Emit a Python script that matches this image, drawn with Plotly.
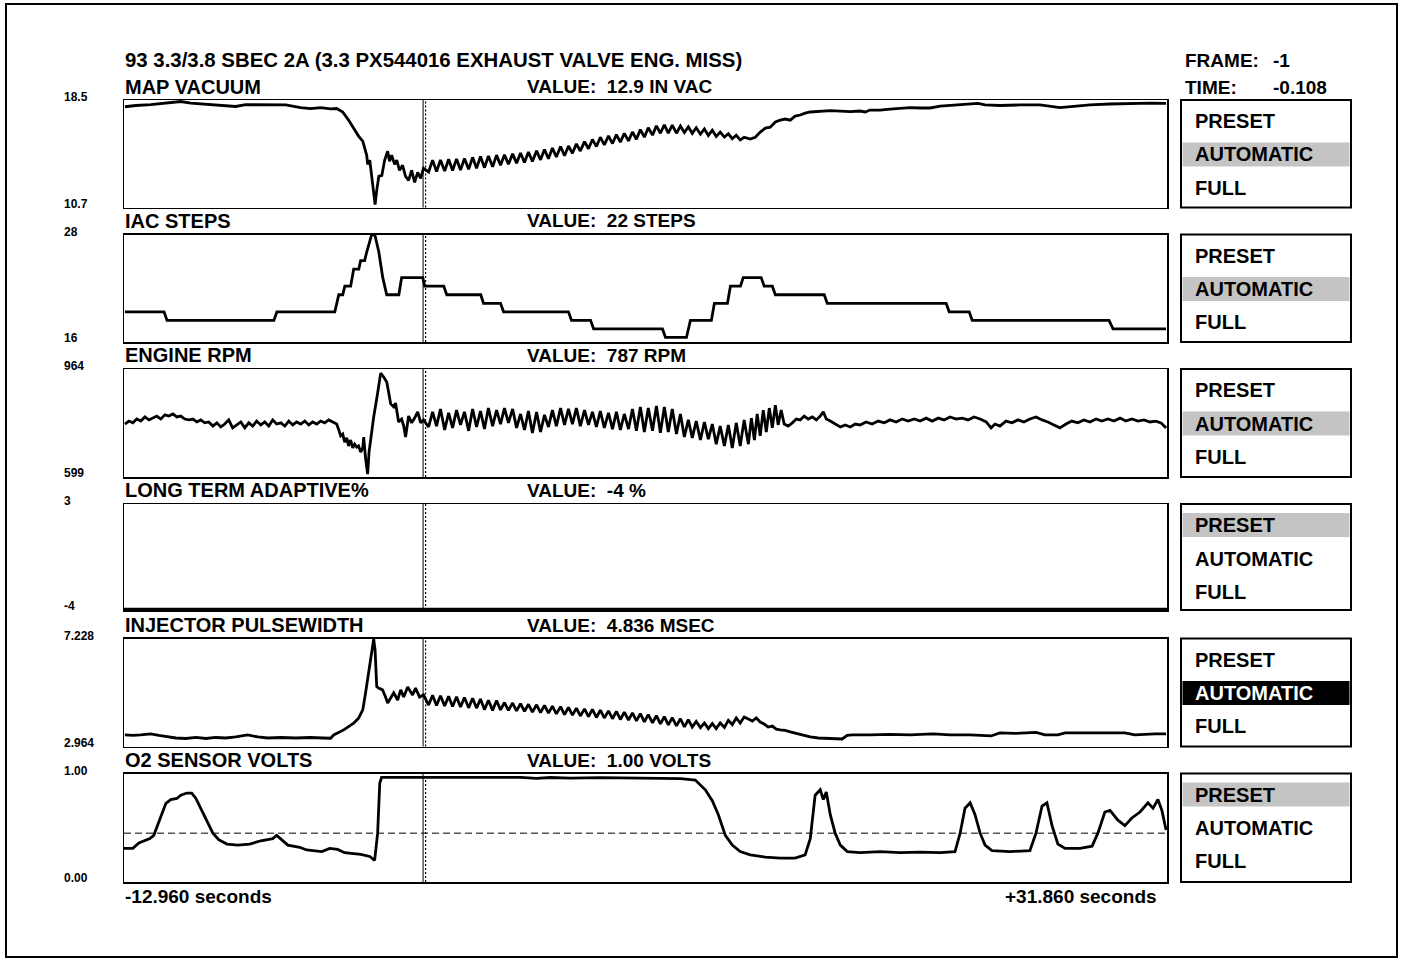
import plotly.graph_objects as go

# ---------------- data ----------------
T_START, T_END = -12.960, 31.860
CURSOR_T = -0.108
TRIGGER_T = 0.0
FRAME_NO = -1
O2_THRESHOLD = 0.45

HEADER = "93 3.3/3.8 SBEC 2A (3.3 PX544016 EXHAUST VALVE ENG. MISS)"
CHANNELS = ["MAP VACUUM", "IAC STEPS", "ENGINE RPM", "LONG TERM ADAPTIVE%",
            "INJECTOR PULSEWIDTH", "O2 SENSOR VOLTS"]
VALUE_TEXT = ["12.9 IN VAC", "22 STEPS", "787 RPM", "-4 %", "4.836 MSEC", "1.00 VOLTS"]
SCALE_TOP = ["18.5", "28", "964", "3", "7.228", "1.00"]
SCALE_BOTTOM = ["10.7", "16", "599", "-4", "2.964", "0.00"]
Y_RANGES = [(10.7, 18.5), (15.47, 28.05), (599, 964), (-4.06, 3), (2.964, 7.228), (0.0, 1.0)]
MODE_OPTIONS = ["PRESET", "AUTOMATIC", "FULL"]
SCALE_MODES = ["AUTOMATIC", "AUTOMATIC", "AUTOMATIC", "PRESET", "AUTOMATIC", "PRESET"]
MODE_FOCUS = [False, False, False, False, True, False]   # solid (focused) highlight

# shared frame times of the engine-miss oscillation window
OSC_T = [0.13, 0.30, 0.47, 0.64, 0.82, 0.99, 1.16, 1.33, 1.50, 1.67,
         1.85, 2.02, 2.19, 2.36, 2.53, 2.70, 2.88, 3.05, 3.22, 3.39,
         3.56, 3.74, 3.91, 4.08, 4.25, 4.42, 4.59, 4.77, 4.94, 5.11,
         5.28, 5.45, 5.62, 5.80, 5.97, 6.14, 6.31, 6.48, 6.65, 6.83,
         7.00, 7.17, 7.34, 7.51, 7.68, 7.86, 8.03, 8.20, 8.37, 8.54,
         8.72, 8.89, 9.06, 9.23, 9.40, 9.57, 9.75, 9.92, 10.09, 10.26,
         10.43, 10.60, 10.78, 10.95, 11.12, 11.29, 11.46, 11.63, 11.81, 11.98,
         12.15, 12.32, 12.49, 12.66, 12.84, 13.01, 13.18, 13.35, 13.52, 13.69]

# MAP VACUUM (in vac)
MAP_PRE_T = [-12.92, -12.45, -11.81, -11.16, -10.52, -10.09, -9.45, -8.80, -8.16, -7.73,
             -7.08, -6.44, -6.01, -5.37, -4.94, -4.51, -4.08, -3.82, -3.56, -3.31,
             -3.05, -2.88, -2.70, -2.62, -2.53, -2.49, -2.40, -2.32, -2.23, -2.17,
             -2.10, -2.01, -1.88, -1.76, -1.63, -1.55, -1.46, -1.33, -1.24, -1.12,
             -0.99, -0.86, -0.73, -0.60, -0.47, -0.34, -0.21, -0.09]
MAP_PRE_V = [18.01, 18.10, 18.16, 18.26, 18.39, 18.28, 18.21, 18.14, 18.03, 18.16,
             18.14, 18.16, 18.14, 17.95, 17.88, 17.95, 17.85, 17.88, 17.63, 17.04,
             16.31, 15.88, 15.51, 15.07, 14.49, 13.83, 14.13, 13.03, 11.72, 10.92,
             11.94, 12.96, 13.03, 14.13, 14.78, 14.05, 14.49, 13.83, 14.13, 13.40,
             13.76, 12.96, 12.67, 13.40, 12.52, 13.25, 12.81, 13.54]
MAP_OSC_V = [13.28, 14.14, 13.31, 14.15, 13.34, 14.20, 13.39, 14.23, 13.41, 14.26,
             13.47, 14.34, 13.55, 14.40, 13.59, 14.44, 13.65, 14.50, 13.77, 14.52,
             13.84, 14.59, 13.92, 14.66, 13.97, 14.73, 14.04, 14.81, 14.16, 14.91,
             14.24, 15.01, 14.36, 15.12, 14.45, 15.16, 14.64, 15.32, 14.80, 15.48,
             14.96, 15.64, 15.12, 15.80, 15.25, 15.89, 15.34, 15.99, 15.44, 16.08,
             15.53, 16.18, 15.65, 16.35, 15.80, 16.49, 15.95, 16.62, 16.09, 16.69,
             16.09, 16.67, 16.09, 16.61, 16.14, 16.55, 16.08, 16.49, 16.02, 16.40,
             15.93, 16.31, 15.86, 16.17, 15.81, 16.05, 15.69, 15.94, 15.61, 15.80]
MAP_POST_T = [13.95, 14.17, 14.38, 14.60, 14.81, 15.03, 15.24, 15.45, 15.67, 15.88,
              16.10, 16.31, 16.53, 16.96, 17.39, 17.82, 18.24, 18.67, 18.89, 19.10,
              19.53, 19.96, 20.39, 20.82, 21.25, 21.68, 22.11, 22.54, 22.97, 23.40,
              23.74, 24.04, 24.68, 25.54, 26.40, 27.26, 27.90, 28.55, 29.41, 30.27,
              31.13, 31.82]
MAP_POST_V = [15.66, 15.80, 16.17, 16.46, 16.53, 16.90, 17.04, 17.12, 17.04, 17.33,
              17.41, 17.55, 17.63, 17.70, 17.73, 17.70, 17.66, 17.70, 17.63, 17.77,
              17.77, 17.84, 17.92, 17.95, 17.92, 17.92, 18.06, 18.10, 18.14, 18.17,
              18.25, 18.14, 18.10, 18.14, 18.14, 17.95, 18.06, 18.14, 18.21, 18.25,
              18.28, 18.25]

# IAC STEPS
IAC_T = [-12.92, -11.24, -11.11, -6.52, -6.39, -3.90, -3.73, -3.56, -3.47, -3.22,
         -3.09, -2.87, -2.79, -2.62, -2.53, -2.44, -2.32, -2.18, -2.01, -1.84,
         -1.67, -1.15, -1.03, -0.12, -0.04, 0.78, 0.91, 2.37, 2.49, 3.22,
         3.35, 6.14, 6.27, 7.09, 7.22, 10.18, 10.31, 11.21, 11.38, 12.28,
         12.41, 12.97, 13.10, 13.53, 13.65, 14.42, 14.55, 14.90, 15.03, 17.13,
         17.26, 22.37, 22.50, 23.36, 23.49, 29.37, 29.54, 31.82]
IAC_V = [19, 19, 18, 18, 19, 19, 21, 21, 22, 22,
         24, 24, 25, 25, 26, 27, 28, 28, 26, 23,
         21, 21, 23, 23, 22, 22, 21, 21, 20, 20,
         19, 19, 18, 18, 17, 17, 16, 16, 18, 18,
         20, 20, 22, 22, 23, 23, 22, 22, 21, 21,
         20, 20, 19, 19, 18, 18, 17, 17]

# ENGINE RPM
RPM_PRE_T = [-12.92, -12.75, -12.58, -12.41, -12.24, -12.06, -11.89, -11.72, -11.55, -11.38,
             -11.20, -11.03, -10.86, -10.69, -10.52, -10.35, -10.17, -10.00, -9.83, -9.66,
             -9.49, -9.32, -9.14, -8.97, -8.80, -8.63, -8.46, -8.29, -8.11, -7.94,
             -7.77, -7.60, -7.43, -7.26, -7.08, -6.91, -6.74, -6.57, -6.40, -6.22,
             -6.05, -5.88, -5.71, -5.54, -5.37, -5.19, -5.02, -4.85, -4.68, -4.51,
             -4.34, -4.16, -3.99,
             -3.82, -3.73, -3.65, -3.56, -3.48, -3.39, -3.31, -3.22, -3.13, -3.05,
             -2.96, -2.88, -2.79, -2.70, -2.66, -2.58, -2.49, -2.43, -2.36, -2.23,
             -2.06, -1.93, -1.80, -1.67, -1.59, -1.50, -1.37, -1.29, -1.16, -1.03,
             -0.94, -0.86, -0.73, -0.60, -0.47, -0.34, -0.21, -0.09]
RPM_PRE_V = [778, 788, 782, 795, 788, 802, 792, 798, 805, 795,
             809, 805, 812, 802, 805, 795, 792, 795, 785, 792,
             782, 785, 771, 782, 768, 778, 792, 765, 775, 785,
             765, 782, 771, 788, 775, 785, 771, 792, 778, 782,
             771, 788, 775, 785, 778, 788, 775, 785, 778, 788,
             782, 792, 785,
             778, 758, 738, 744, 717, 731, 704, 724, 697, 710,
             700, 704, 683, 697, 734, 663, 609, 683, 731, 802,
             883, 950, 937, 920, 886, 846, 836, 849, 785, 795,
             771, 734, 805, 782, 798, 819, 782, 792]
RPM_OSC_V = [768, 819, 771, 829, 758, 816, 765, 825, 775, 819,
             755, 829, 768, 822, 761, 832, 771, 825, 778, 832,
             782, 829, 765, 812, 758, 822, 748, 819, 751, 809,
             768, 825, 771, 832, 775, 829, 778, 832, 771, 825,
             775, 819, 768, 822, 765, 816, 761, 819, 758, 812,
             761, 829, 755, 836, 751, 832, 755, 839, 748, 836,
             751, 829, 744, 812, 734, 792, 731, 788, 724, 785,
             727, 778, 710, 771, 704, 775, 697, 782, 704, 792]
RPM_POST_T = [13.87, 14.00, 14.13, 14.25, 14.38, 14.51, 14.64, 14.77, 14.90, 15.03,
              15.15, 15.28, 15.41, 15.58, 15.76, 15.93, 16.10, 16.27, 16.44, 16.62,
              16.79, 16.96, 17.09, 17.22, 17.39, 17.61, 17.82, 18.03, 18.25, 18.46,
              18.67, 18.93, 19.19, 19.45, 19.71, 19.96, 20.22, 20.48, 20.74, 21.00,
              21.25, 21.51, 21.77, 22.03, 22.28, 22.54, 22.80, 23.06, 23.31, 23.57,
              23.83, 24.09, 24.30, 24.47, 24.68, 24.94, 25.20, 25.46, 25.71, 25.97,
              26.23, 26.49, 26.74, 27.00, 27.26, 27.52, 27.77, 28.03, 28.29, 28.55,
              28.81, 29.06, 29.32, 29.58, 29.84, 30.09, 30.35, 30.61, 30.87, 31.13,
              31.38, 31.60, 31.82]
RPM_POST_V = [710, 798, 724, 812, 738, 825, 751, 832, 765, 842,
              775, 825, 778, 771, 782, 795, 792, 805, 795, 802,
              792, 805, 819, 795, 788, 778, 768, 775, 768, 778,
              775, 785, 778, 788, 782, 792, 785, 795, 788, 795,
              788, 798, 788, 798, 792, 802, 795, 798, 792, 802,
              795, 785, 765, 778, 771, 788, 782, 792, 785, 795,
              802, 792, 785, 775, 765, 778, 788, 782, 792, 785,
              795, 788, 795, 788, 798, 788, 795, 788, 792, 785,
              788, 782, 765]

# LONG TERM ADAPTIVE %
LTA_T = [T_START, T_END]
LTA_V = [-4, -4]

# INJECTOR PULSEWIDTH (msec)
INJ_PRE_T = [-12.92, -12.58, -12.24, -11.81, -11.46, -11.12, -10.73, -10.30, -9.87, -9.44,
             -9.02, -8.59, -8.16, -7.64, -7.21, -6.78, -6.22, -5.58, -4.94, -4.42,
             -4.08, -3.95, -3.73, -3.52, -3.31, -3.09, -2.88, -2.70, -2.58, -2.45,
             -2.32, -2.23, -2.17, -2.10, -2.02, -1.85, -1.72, -1.63, -1.50, -1.37,
             -1.20, -1.07, -0.94, -0.77, -0.56, -0.43, -0.26, -0.09]
INJ_PRE_V = [3.42, 3.40, 3.42, 3.46, 3.40, 3.34, 3.30, 3.28, 3.32, 3.28,
             3.32, 3.30, 3.34, 3.42, 3.34, 3.30, 3.32, 3.30, 3.32, 3.30,
             3.29, 3.42, 3.52, 3.62, 3.75, 3.89, 4.08, 4.41, 5.08, 5.87,
             6.66, 7.21, 6.77, 5.33, 5.27, 5.20, 4.92, 4.68, 4.88, 5.08,
             4.80, 5.20, 4.92, 5.31, 5.00, 5.27, 4.92, 5.00]
INJ_OSC_V = [4.60, 4.99, 4.58, 4.97, 4.56, 4.95, 4.54, 4.93, 4.52, 4.90,
             4.49, 4.87, 4.48, 4.84, 4.42, 4.79, 4.39, 4.78, 4.41, 4.70,
             4.39, 4.68, 4.37, 4.66, 4.35, 4.63, 4.32, 4.61, 4.30, 4.59,
             4.28, 4.56, 4.25, 4.54, 4.22, 4.51, 4.20, 4.48, 4.17, 4.45,
             4.14, 4.43, 4.11, 4.40, 4.09, 4.37, 4.06, 4.35, 4.03, 4.32,
             4.01, 4.29, 3.98, 4.26, 3.94, 4.22, 3.90, 4.18, 3.86, 4.14,
             3.82, 4.10, 3.78, 4.06, 3.74, 4.02, 3.73, 3.95, 3.71, 3.89,
             3.67, 3.87, 3.67, 3.89, 3.72, 4.00, 3.83, 4.09, 3.89, 4.13]
INJ_POST_T = [13.87, 14.04, 14.21, 14.38, 14.55, 14.72, 14.90, 15.07, 15.24, 15.45,
              15.67, 15.93, 16.18, 16.53, 16.87, 17.22, 17.56, 17.90, 18.12, 18.33,
              19.10, 19.96, 20.82, 21.81, 22.54, 23.40, 24.30, 24.68, 25.33, 26.23,
              26.62, 27.17, 27.48, 28.55, 29.41, 30.05, 30.48, 30.83, 31.34, 31.82]
INJ_POST_V = [4.05, 3.97, 4.09, 3.93, 3.85, 3.73, 3.77, 3.65, 3.62, 3.60,
              3.54, 3.48, 3.42, 3.34, 3.30, 3.28, 3.26, 3.26, 3.40, 3.42,
              3.42, 3.44, 3.42, 3.46, 3.42, 3.42, 3.38, 3.50, 3.48, 3.52,
              3.42, 3.42, 3.50, 3.50, 3.52, 3.50, 3.42, 3.44, 3.46, 3.46]

# O2 SENSOR VOLTS
O2_T = [-12.96, -12.58, -12.32, -11.85, -11.68, -11.42, -11.16, -10.95, -10.69, -10.52,
        -10.26, -10.05, -9.87, -9.62, -9.36, -9.14, -8.89, -8.54, -8.07, -7.56,
        -7.08, -6.57, -6.40, -6.18, -5.92, -5.41, -5.11, -4.46, -4.12, -3.78,
        -3.48, -2.79, -2.40, -2.19, -2.06, -1.97, -1.89, -1.07, 0.64, 2.36,
        4.08, 4.76, 5.37, 6.22, 7.51, 9.23, 10.95, 11.59, 12.02, 12.32,
        12.58, 12.88, 13.18, 13.52, 13.95, 14.60, 15.24, 15.88, 16.31, 16.53,
        16.74, 16.96, 17.09, 17.22, 17.39, 17.60, 17.82, 18.12, 18.67, 19.53,
        20.39, 21.25, 22.11, 22.75, 22.97, 23.18, 23.40, 23.61, 23.83, 24.04,
        24.34, 25.11, 25.97, 26.23, 26.49, 26.70, 26.92, 27.17, 27.48, 28.12,
        28.64, 28.89, 29.19, 29.41, 29.75, 30.05, 30.35, 30.70, 31.04, 31.26,
        31.47, 31.64, 31.82]
O2_V = [0.31, 0.31, 0.36, 0.40, 0.43, 0.57, 0.725, 0.76, 0.77, 0.80,
        0.82, 0.82, 0.77, 0.66, 0.54, 0.45, 0.39, 0.35, 0.34, 0.35,
        0.38, 0.40, 0.43, 0.39, 0.34, 0.32, 0.295, 0.28, 0.31, 0.30,
        0.27, 0.255, 0.235, 0.20, 0.45, 0.91, 0.965, 0.965, 0.965, 0.962,
        0.965, 0.955, 0.963, 0.958, 0.962, 0.958, 0.952, 0.94, 0.85, 0.75,
        0.62, 0.43, 0.34, 0.28, 0.25, 0.23, 0.22, 0.22, 0.25, 0.40,
        0.80, 0.85, 0.76, 0.83, 0.62, 0.45, 0.34, 0.28, 0.27, 0.28,
        0.27, 0.275, 0.27, 0.28, 0.45, 0.68, 0.73, 0.62, 0.45, 0.34,
        0.29, 0.28, 0.29, 0.45, 0.70, 0.73, 0.52, 0.35, 0.31, 0.31,
        0.33, 0.45, 0.645, 0.66, 0.57, 0.52, 0.59, 0.645, 0.73, 0.68,
        0.76, 0.66, 0.48]

map_t = MAP_PRE_T + OSC_T + MAP_POST_T
map_v = MAP_PRE_V + MAP_OSC_V + MAP_POST_V
rpm_t = RPM_PRE_T + OSC_T + RPM_POST_T
rpm_v = RPM_PRE_V + RPM_OSC_V + RPM_POST_V
inj_t = INJ_PRE_T + OSC_T + INJ_POST_T
inj_v = INJ_PRE_V + INJ_OSC_V + INJ_POST_V

SERIES = [(map_t, map_v), (IAC_T, IAC_V), (rpm_t, rpm_v),
          (LTA_T, LTA_V), (inj_t, inj_v), (O2_T, O2_V)]

# ---------------- layout (pixels) ----------------
W, H = 1403, 962
PLOT_X0, PLOT_X1 = 124, 1167
PANEL_TOP = [100, 234.5, 369, 504, 638.5, 773.5]
PANEL_BOT = [207.5, 342, 477, 610, 746.5, 882]
BOX_X0, BOX_X1 = 1181, 1351
ROW_OFF = [21, 54.5, 87.5]
FONT = "Liberation Sans, Arial, Helvetica, sans-serif"


def px(x):
    return x / W


def py(y):
    return 1 - y / H


def ax(i):
    return "" if i == 1 else str(i)


fig = go.Figure()
for i, (t, v) in enumerate(SERIES, start=1):
    fig.add_trace(go.Scatter(x=t, y=v, mode="lines",
                             line=dict(color="black", width=2.8),
                             xaxis="x" + ax(i), yaxis="y" + ax(i),
                             hoverinfo="skip", showlegend=False))

layout = dict(width=W, height=H, margin=dict(l=0, r=0, t=0, b=0),
              paper_bgcolor="white", plot_bgcolor="white",
              showlegend=False, hovermode=False)
axis_style = dict(showline=True, mirror=True, linecolor="black", linewidth=1.5,
                  showgrid=False, zeroline=False, showticklabels=False,
                  ticks="", fixedrange=True)
for i in range(1, 7):
    layout["xaxis" + ax(i)] = dict(domain=[px(PLOT_X0), px(PLOT_X1)],
                                   range=[T_START, T_END], anchor="y" + ax(i), **axis_style)
    layout["yaxis" + ax(i)] = dict(domain=[py(PANEL_BOT[i - 1]), py(PANEL_TOP[i - 1])],
                                   range=list(Y_RANGES[i - 1]), anchor="x" + ax(i), **axis_style)
fig.update_layout(**layout)

shapes = []
annotations = []


def text(s, x, y, size, anchor="left", color="black", bold=True):
    annotations.append(dict(text=("<b>%s</b>" % s) if bold else s,
                            x=px(x), y=py(y), xref="paper", yref="paper",
                            xanchor=anchor, yanchor="middle", showarrow=False,
                            font=dict(family=FONT, size=size, color=color)))


# outer frame
shapes.append(dict(type="rect", xref="paper", yref="paper",
                   x0=px(6), x1=px(1397), y0=py(957), y1=py(4),
                   line=dict(color="black", width=2), fillcolor="rgba(0,0,0,0)"))

# header
text(HEADER, 123, 60, 20.4)
text("FRAME:", 1183, 60, 19)
text(str(FRAME_NO), 1271, 60, 19)
text("TIME:", 1183, 87, 19)
text("%.3f" % CURSOR_T, 1329, 87, 19, anchor="right")

for i in range(1, 7):
    top, bot = PANEL_TOP[i - 1], PANEL_BOT[i - 1]
    # cursor and trigger lines
    shapes.append(dict(type="line", xref="x" + ax(i), yref="y%s domain" % ax(i),
                       x0=CURSOR_T, x1=CURSOR_T, y0=0, y1=1,
                       line=dict(color="black", width=1)))
    shapes.append(dict(type="line", xref="x" + ax(i), yref="y%s domain" % ax(i),
                       x0=TRIGGER_T, x1=TRIGGER_T, y0=0, y1=1,
                       line=dict(color="black", width=1.2, dash="2px,2px")))
    # titles, values, scale labels
    text(CHANNELS[i - 1], 123, top - 13.5, 20)
    text("VALUE:\u00a0\u00a0" + VALUE_TEXT[i - 1], 525, top - 13.5, 19)
    text(SCALE_TOP[i - 1], 62, top - 3, 12)
    text(SCALE_BOTTOM[i - 1], 62, bot - 4, 12)
    # scale-mode box
    for j, opt in enumerate(MODE_OPTIONS):
        yc = top + ROW_OFF[j]
        selected = (opt == SCALE_MODES[i - 1])
        color = "black"
        if selected:
            fill = "black" if MODE_FOCUS[i - 1] else "#c4c4c4"
            if MODE_FOCUS[i - 1]:
                color = "white"
            shapes.append(dict(type="rect", xref="paper", yref="paper",
                               x0=px(BOX_X0 + 1.5), x1=px(BOX_X1 - 1.5),
                               y0=py(yc + 12), y1=py(yc - 12),
                               line=dict(width=0), fillcolor=fill, layer="below"))
        text(opt, 1193, yc, 20, color=color)
    shapes.append(dict(type="rect", xref="paper", yref="paper",
                       x0=px(BOX_X0), x1=px(BOX_X1), y0=py(bot), y1=py(top),
                       line=dict(color="black", width=2), fillcolor="rgba(0,0,0,0)"))

# O2 switching threshold
shapes.append(dict(type="line", xref="x6 domain", yref="y6", x0=0, x1=1,
                   y0=O2_THRESHOLD, y1=O2_THRESHOLD,
                   line=dict(color="black", width=1, dash="7px,4px")))

# time span labels
text("%.3f seconds" % T_START, 123, 896, 19)
text("+%.3f seconds" % T_END, 1159, 896, 19, anchor="right")

fig.update_layout(shapes=shapes, annotations=annotations)

fig.write_html("out.html", config={"displayModeBar": False, "staticPlot": True},
               post_script="document.body.style.margin='0';document.body.style.overflow='hidden';")
